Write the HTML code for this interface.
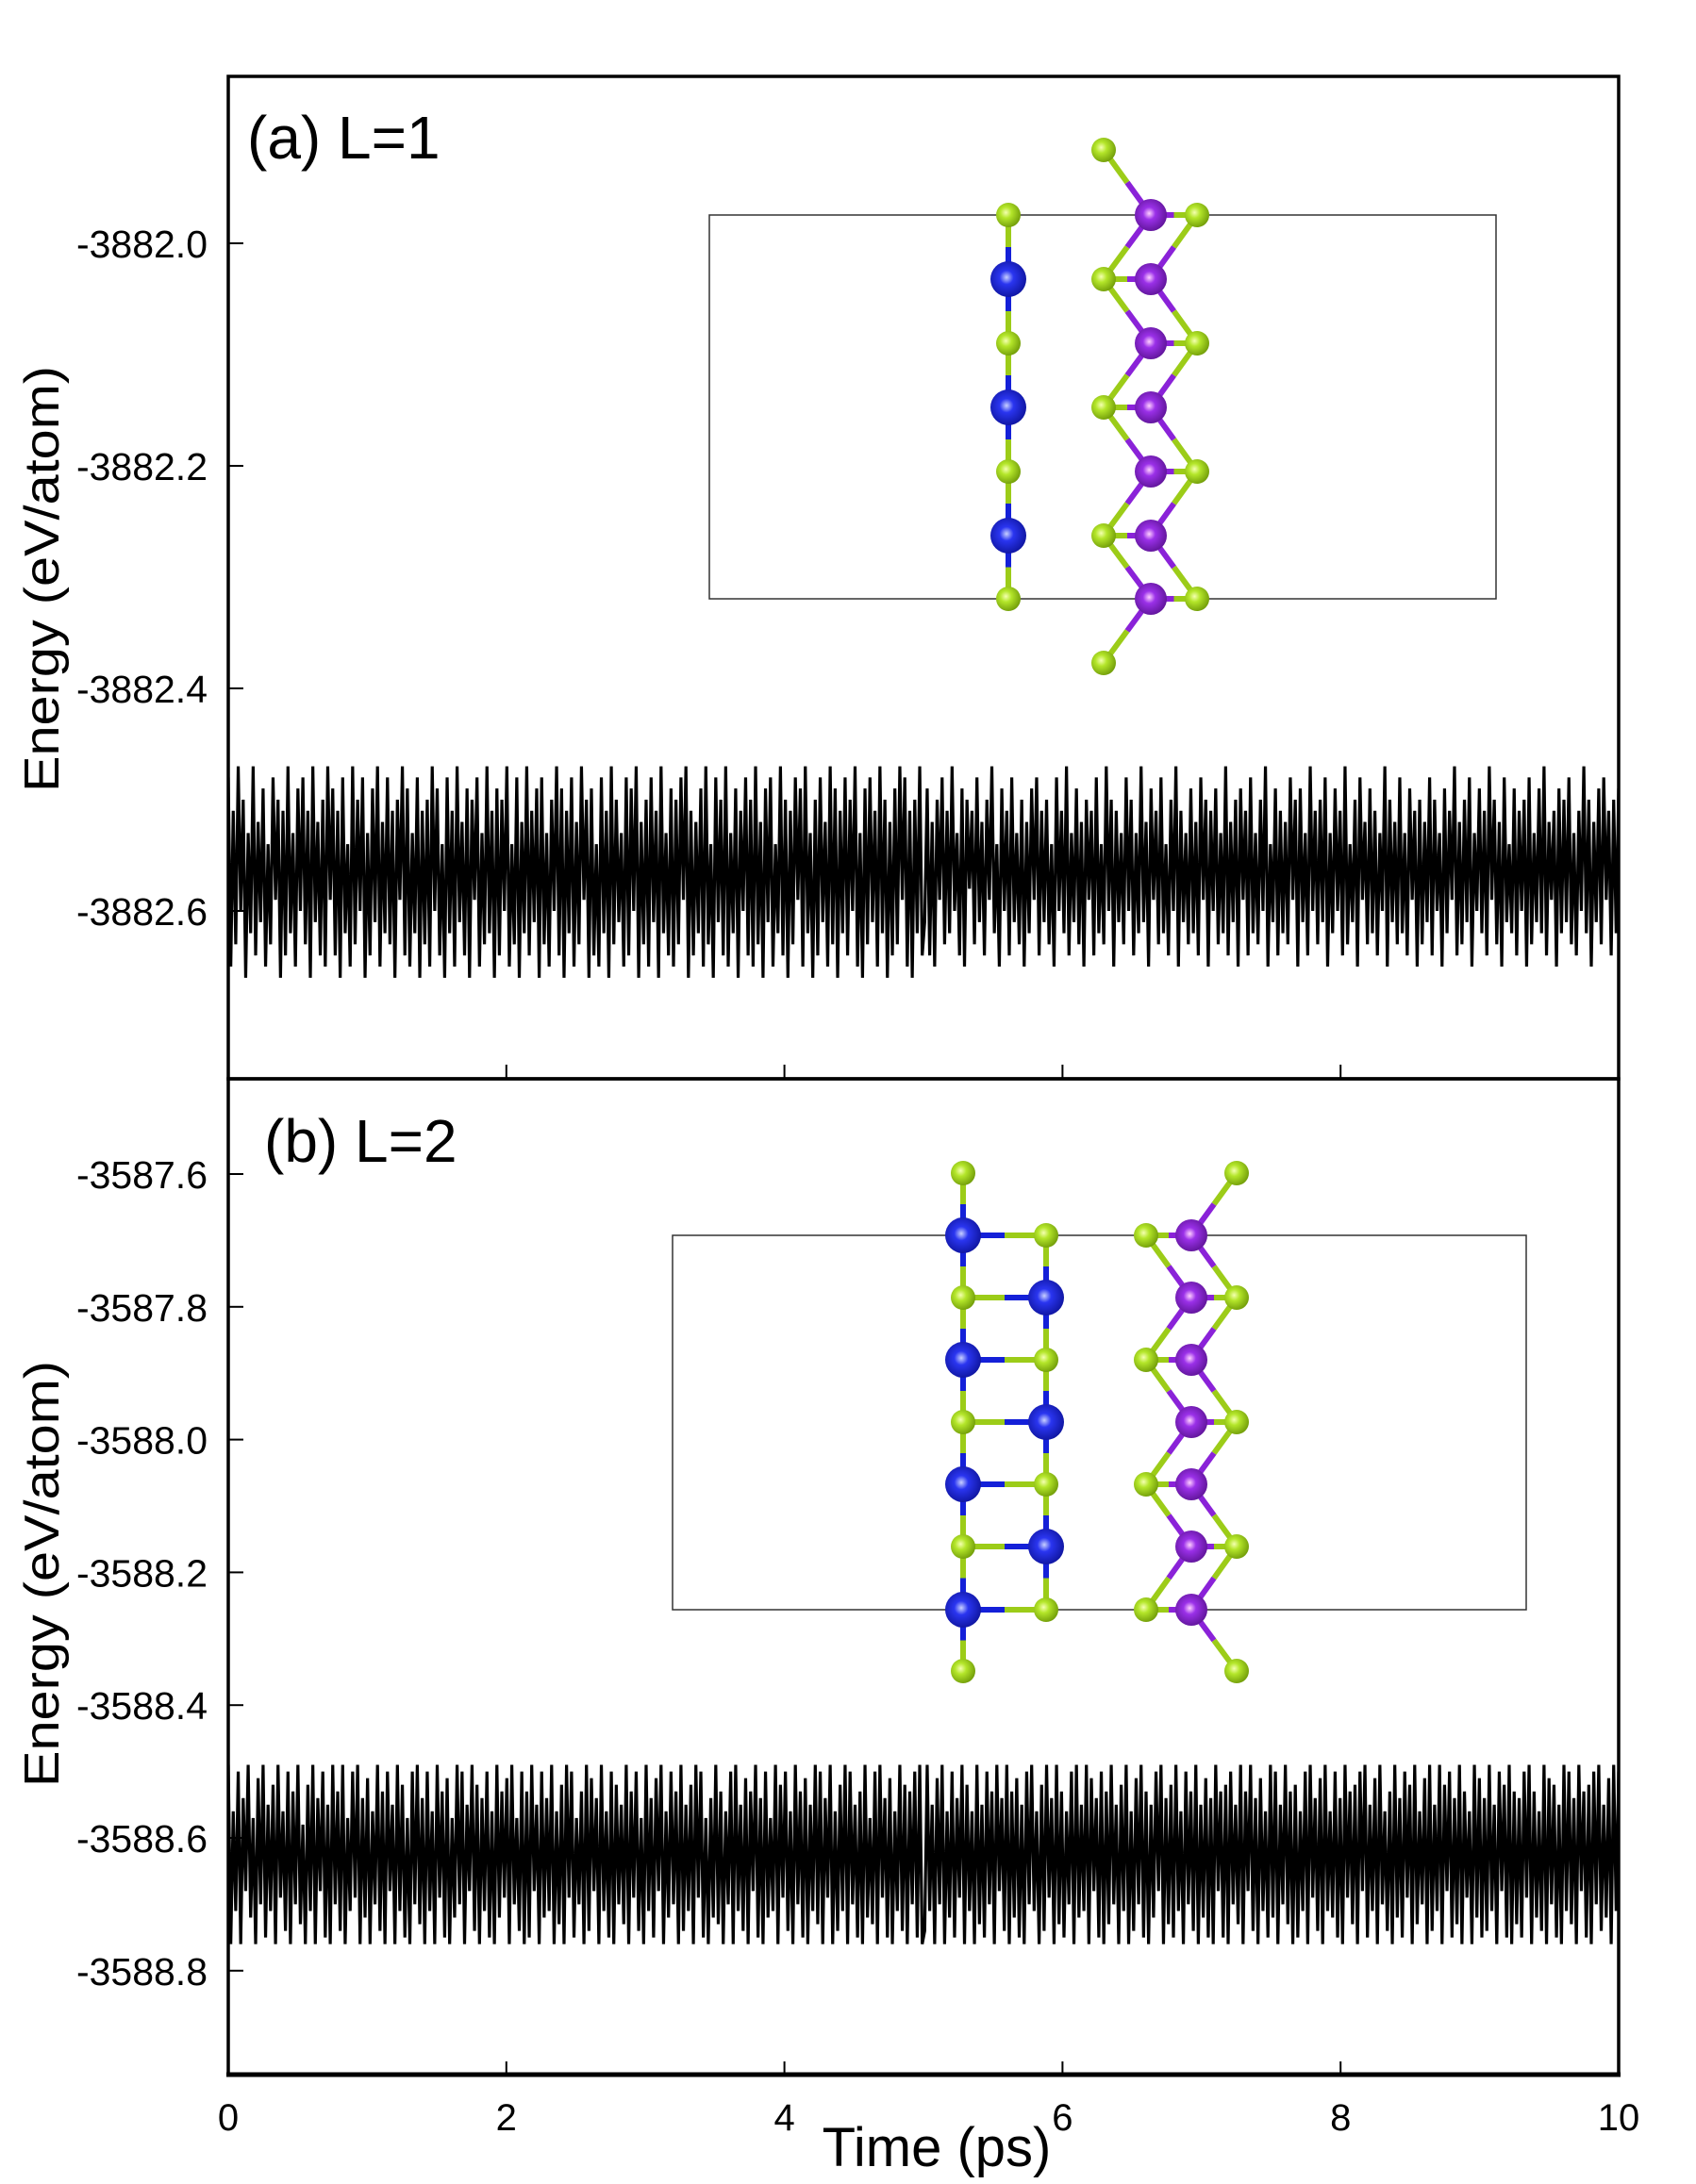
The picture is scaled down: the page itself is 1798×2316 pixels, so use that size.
<!DOCTYPE html>
<html><head><meta charset="utf-8"><style>
html,body{margin:0;padding:0;background:#fff;}
svg{display:block;font-family:"Liberation Sans",Arial,sans-serif;}
</style></head><body>
<svg id="fig" width="1798" height="2316" viewBox="0 0 1798 2316" xmlns="http://www.w3.org/2000/svg">
<defs>
<radialGradient id="gG" cx="0.4" cy="0.4" r="0.65"><stop offset="0" stop-color="#f4ffb0"/><stop offset="0.35" stop-color="#b4e62a"/><stop offset="1" stop-color="#6f9a08"/></radialGradient>
<radialGradient id="gB" cx="0.45" cy="0.45" r="0.65"><stop offset="0" stop-color="#c8d0ff"/><stop offset="0.3" stop-color="#2a35f0"/><stop offset="1" stop-color="#0a0f90"/></radialGradient>
<radialGradient id="gP" cx="0.45" cy="0.45" r="0.65"><stop offset="0" stop-color="#ffd0ff"/><stop offset="0.3" stop-color="#9a30e8"/><stop offset="1" stop-color="#55108a"/></radialGradient>
<clipPath id="clipTop"><rect x="242" y="81" width="1474" height="1063"/></clipPath>
<clipPath id="clipBot"><rect x="242" y="1144" width="1474" height="1056"/></clipPath>
</defs>
<g id="structA"></g>
<g id="structB"></g>
<g id="series"></g>
<g id="axes"></g>
<text x="262" y="168" font-size="64">(a) L=1</text>
<text x="280" y="1232" font-size="64">(b) L=2</text>
<text transform="translate(62,614) rotate(-90)" text-anchor="middle" font-size="52" textLength="452" lengthAdjust="spacingAndGlyphs">Energy (eV/atom)</text>
<text transform="translate(62,1669) rotate(-90)" text-anchor="middle" font-size="52" textLength="452" lengthAdjust="spacingAndGlyphs">Energy (eV/atom)</text>
<text x="993" y="2297" text-anchor="middle" font-size="58">Time (ps)</text>
</svg>
<script>
const xTicks = [0, 2, 4, 6, 8, 10];
const yTicksTop = [-3882.0, -3882.2, -3882.4, -3882.6];
const yTicksBot = [-3587.6, -3587.8, -3588.0, -3588.2, -3588.4, -3588.6, -3588.8];
const tMax = 10;
const baseTop = -3882.56;
const baseBot = -3588.62;
const devTop1 = [8,-9,5,-7,9,-4,6,-10,3,-6,9,-8,4,-5,7,-9,2,-7,8,-3,6,-10,5,-8,9,-6,3,-9,7,-4,8,-7,5,-10,9,-5,4,-8,6,-9,
9,-3,7,-8,5,-10,8,-6,2,-9,9,-7,6,-4,8,-10,3,-8,7,-5,9,-9,4,-6,8,-7,5,-10,6,-3,9,-8,7,-9,3,-6,8,-10,5,-7,
6,-9,9,-4,7,-8,2,-10,8,-6,5,-9,9,-5,4,-8,7,-10,6,-3,8,-9,3,-7,9,-6,5,-10,7,-8,6,-4,9,-9,2,-7,8,-10,4,-6,
9,-8,5,-5,7,-10,8,-7,3,-9,6,-4,9,-8,7,-10,5,-6,8,-9,4,-7,9,-3,6,-10,7,-8,2,-9,8,-6,5,-10,9,-7,6,-5,3,-9,
8,-8,7,-4,9,-10,4,-7,6,-9,8,-5,5,-10,9,-6,3,-8,7,-9,6,-7,8,-3,9,-10,5,-8,4,-6,7,-9,9,-7,2,-10,8,-5,6,-8,
9,-9,3,-6,7,-10,5,-4,8,-8,6,-9,9,-7,4,-10,7,-5,8,-9,2,-6,9,-8,6,-10,5,-7,8,-3,7,-9,9,-6,3,-10,6,-8,8,-5,
4,-9,9,-7,7,-10,5,-6,8,-8,6,-4,9,-9,3,-10,7,-7,8,-5,5,-9,9,-6,6,-10,4,-8,7,-7,9,-3,8,-9,5,-10,6,-6,9,-8];
const devTop2 = [-5,7,-8,4,-9,6,-3,8,-7,5,-6,9,-4,3,-8,7,-9,6,-2,5,-7,8,-5,4,-8,6,-3,9,-6,2,-9,7,-4,5,-8,8,-5,3,-7,6,
-9,4,-6,7,-3,8,-8,5,-5,6,-7,2,-9,8,-4,5,-6,9,-8,3,-5,7,-7,4,-9,6,-3,5,-8,8,-6,2,-7,9,-4,6,-9,5,-5,3,
-7,8,-4,6,-8,3,-6,9,-5,4,-9,7,-3,5,-7,8,-6,2,-8,6,-4,9,-9,5,-5,3,-7,7,-6,4,-8,8,-3,6,-9,5,-4,7,-7,3,
-6,9,-8,4,-5,6,-9,7,-3,5,-8,8,-6,3,-7,6,-4,9,-9,2,-5,7,-8,5,-6,4,-7,8,-3,6,-9,7,-5,3,-8,9,-4,5,-7,6,
-5,8,-9,3,-6,7,-4,5,-8,9,-7,2,-5,6,-9,8,-3,4,-7,7,-6,5,-8,3,-4,9,-9,6,-5,4,-7,8,-6,3,-8,7,-3,5,-9,6,
-7,4,-5,8,-8,6,-4,3,-9,7,-6,5,-3,9,-8,4,-7,6,-5,8,-9,3,-4,7,-6,5,-8,9,-3,6,-7,4,-9,8,-5,2,-6,7,-8,5,
-4,6,-9,8,-7,3,-5,7,-6,9,-8,4,-3,5,-9,7,-6,6,-5,8,-7,3,-8,5,-4,9,-6,6,-9,4,-5,7,-7,8,-3,5,-8,6,-6,7];
const devBot1 = [13,-14,6,-9,12,-14,8,-6,13,-10,5,-14,11,-8,13,-13,7,-9,10,-14,13,-7,6,-12,12,-14,9,-8,13,-11,4,-14,10,-9,13,-14,8,-6,12,-13,
7,-14,13,-8,9,-12,13,-14,5,-9,12,-7,13,-14,8,-10,11,-14,6,-8,13,-12,9,-14,12,-6,7,-14,13,-9,10,-13,5,-14,12,-8,13,-11,8,-14,
12,-9,6,-14,13,-7,9,-13,11,-14,5,-10,13,-8,12,-14,7,-6,13,-12,10,-14,8,-9,12,-13,6,-14,13,-10,9,-7,11,-14,13,-8,5,-12,12,-14,
9,-13,13,-6,7,-14,12,-10,8,-9,13,-14,6,-11,10,-14,13,-7,12,-13,5,-8,9,-14,13,-12,11,-6,8,-14,13,-9,6,-13,12,-14,10,-8,7,-11,
13,-14,9,-7,12,-12,5,-14,13,-9,8,-13,11,-6,13,-14,6,-10,12,-8,9,-14,13,-12,7,-9,10,-14,13,-7,12,-13,5,-14,8,-10,13,-11,9,-14,
6,-8,12,-14,13,-9,7,-12,11,-14,9,-6,13,-13,8,-14,12,-10,5,-9,13,-14,10,-7,12,-12,6,-14,13,-8,9,-13,11,-14,7,-9,13,-11,12,-14,
8,-7,13,-14,6,-12,10,-9,13,-14,12,-8,7,-13,9,-14,13,-10,5,-11,12,-14,13,-7,8,-13,11,-14,6,-9,13,-12,10,-14,9,-8,12,-13,13,-14];
const devBot2 = [-12,13,-9,7,-14,11,-8,13,-14,6,-10,12,-13,8,-7,13,-14,10,-9,6,-14,13,-11,7,-13,12,-8,9,-14,13,-6,8,-12,13,-14,9,-10,11,-13,7,
-14,12,-8,13,-9,6,-14,10,-12,13,-7,8,-14,13,-11,9,-13,6,-8,12,-14,13,-10,7,-9,13,-14,11,-6,8,-13,12,-14,9,-11,13,-8,7,-14,10,
-9,13,-14,6,-12,11,-8,13,-13,9,-14,7,-10,12,-6,13,-14,8,-11,10,-13,13,-9,6,-14,12,-8,9,-12,13,-14,7,-10,11,-13,8,-14,13,-6,9,
-13,10,-14,12,-8,7,-11,13,-14,9,-6,13,-12,8,-14,11,-9,6,-13,13,-10,12,-14,7,-8,13,-11,9,-14,10,-13,6,-9,12,-14,13,-7,8,-12,11,
-14,13,-9,6,-10,12,-13,8,-14,13,-7,9,-11,10,-14,12,-6,13,-13,7,-9,11,-14,13,-8,6,-12,9,-14,13,-10,8,-13,12,-7,10,-14,13,-11,6,
-8,11,-14,13,-12,7,-9,13,-14,10,-6,12,-13,8,-11,13,-14,9,-7,6,-14,13,-10,11,-13,8,-12,13,-9,7,-14,12,-6,10,-13,13,-14,9,-11,8,
-13,12,-7,13,-14,9,-10,6,-12,13,-14,11,-8,10,-13,7,-14,13,-9,12,-11,8,-14,13,-6,9,-13,10,-14,12,-8,13,-12,7,-10,11,-14,13,-9,12];

const NS = "http://www.w3.org/2000/svg";
const X0 = 242, X1 = 1716;
function xScale(t){ return X0 + t / tMax * (X1 - X0); }
function yTop(v){ return 258 + (-3882.0 - v) / 0.2 * 236; }
function yBot(v){ return 1245 + (-3587.6 - v) / 0.2 * 140.8; }
function mk(tag, attrs, parent){
  const e = document.createElementNS(NS, tag);
  for (const k in attrs) e.setAttribute(k, attrs[k]);
  parent.appendChild(e);
  return e;
}
const series = document.getElementById('series');
const axes = document.getElementById('axes');

function drawSeries(base, dev, yf, clip, name){
  const n = dev.length;
  let d = '';
  for (let i = 0; i < n; i++){
    const t = i * tMax / (n - 1);
    const v = base + dev[i] * 0.01;
    d += (i ? 'L' : 'M') + xScale(t).toFixed(2) + ',' + yf(v).toFixed(2);
  }
  const p = mk('path', {d: d, fill: 'none', stroke: '#000', 'stroke-width': 3.2, 'stroke-linejoin': 'bevel', 'clip-path': 'url(#' + clip + ')'}, series);
  
  
}
drawSeries(baseTop, devTop1.concat(devTop2), yTop, 'clipTop', 'energy-line-l1');
drawSeries(baseBot, devBot1.concat(devBot2), yBot, 'clipBot', 'energy-line-l2');

const fr1 = mk('rect', {x: 242, y: 81, width: 1474, height: 1063, fill: 'none', stroke: '#000', 'stroke-width': 3.5}, axes);


const fr2 = mk('rect', {x: 242, y: 1144, width: 1474, height: 1056, fill: 'none', stroke: '#000', 'stroke-width': 3.5}, axes);


const bl = mk('line', {x1: 240, y1: 2200, x2: 1718, y2: 2200, stroke: '#000', 'stroke-width': 5}, axes);



xTicks.forEach(function(t){
  const x = xScale(t);
  if (t > 0 && t < tMax){
    const a = mk('line', {x1: x, y1: 1144, x2: x, y2: 1129, stroke: '#000', 'stroke-width': 2}, axes);
    
    
    const b = mk('line', {x1: x, y1: 2200, x2: x, y2: 2186, stroke: '#000', 'stroke-width': 2}, axes);
    
    
  }
  const lb = mk('text', {x: x, y: 2259, 'text-anchor': 'middle', 'font-size': 40}, axes);
  lb.textContent = String(t);
  
  
});
function yTicks(arr, yf){
  arr.forEach(function(v){
    const y = yf(v);
    const tk = mk('line', {x1: 242, y1: y, x2: 258, y2: y, stroke: '#000', 'stroke-width': 2}, axes);
    
    
    const lb = mk('text', {x: 220, y: y + 15, 'text-anchor': 'end', 'font-size': 41}, axes);
    lb.textContent = v.toFixed(1);
    
    
  });
}
yTicks(yTicksTop, yTop);
yTicks(yTicksBot, yBot);

const col = {G: '#9ccc18', B: '#1420d8', P: '#8a22d8'};
const grad = {G: 'url(#gG)', B: 'url(#gB)', P: 'url(#gP)'};
const rad = {G: 13, B: 19, P: 17};
function bond(g, a, b){
  const mx = (a[0] + b[0]) / 2, my = (a[1] + b[1]) / 2;
  mk('line', {x1: a[0], y1: a[1], x2: mx, y2: my, stroke: col[a[2]], 'stroke-width': 6}, g);
  mk('line', {x1: mx, y1: my, x2: b[0], y2: b[1], stroke: col[b[2]], 'stroke-width': 6}, g);
}
function atom(g, a){
  const c = mk('circle', {cx: a[0], cy: a[1], r: rad[a[2]], fill: grad[a[2]]}, g);
  
  
}
(function(){
  const g = document.getElementById('structA');
  const r = mk('rect', {x: 752, y: 228, width: 834, height: 407, fill: 'none', stroke: '#333', 'stroke-width': 1.5}, g);
  
  
  const rows = [228, 296, 364, 432, 500, 568, 635];
  const left = rows.map(function(y, i){ return [1069, y, i % 2 ? 'B' : 'G']; });
  const P = rows.map(function(y){ return [1220, y, 'P']; });
  const GL = {}, GR = {};
  [1, 3, 5].forEach(function(i){ GL[i] = [1170, rows[i], 'G']; });
  [0, 2, 4, 6].forEach(function(i){ GR[i] = [1269, rows[i], 'G']; });
  const top = [1170, 159, 'G'], bot = [1170, 703, 'G'];
  for (let i = 0; i < 6; i++) bond(g, left[i], left[i + 1]);
  const chainA = [top, P[0], GL[1], P[2], GL[3], P[4], GL[5], P[6], bot];
  const chainB = [GR[0], P[1], GR[2], P[3], GR[4], P[5], GR[6]];
  for (let i = 0; i < chainA.length - 1; i++) bond(g, chainA[i], chainA[i + 1]);
  for (let i = 0; i < chainB.length - 1; i++) bond(g, chainB[i], chainB[i + 1]);
  for (let i = 0; i < 7; i++) bond(g, P[i], GL[i] || GR[i]);
  left.concat([top, bot]).concat(Object.values(GL)).concat(Object.values(GR)).concat(P).forEach(function(a){ atom(g, a); });
})();
(function(){
  const g = document.getElementById('structB');
  const r = mk('rect', {x: 713, y: 1310, width: 905, height: 397, fill: 'none', stroke: '#333', 'stroke-width': 1.5}, g);
  
  
  const rows = [1310, 1376, 1442, 1508, 1574, 1640, 1707];
  const c1 = rows.map(function(y, i){ return [1021, y, i % 2 ? 'G' : 'B']; });
  const c2 = rows.map(function(y, i){ return [1109, y, i % 2 ? 'B' : 'G']; });
  const t1 = [1021, 1244, 'G'], b1 = [1021, 1772, 'G'];
  const col1 = [t1].concat(c1).concat([b1]);
  for (let i = 0; i < col1.length - 1; i++) bond(g, col1[i], col1[i + 1]);
  for (let i = 0; i < 6; i++) bond(g, c2[i], c2[i + 1]);
  for (let i = 0; i < 7; i++) bond(g, c1[i], c2[i]);
  const P = rows.map(function(y){ return [1263, y, 'P']; });
  const GL = {}, GR = {};
  [0, 2, 4, 6].forEach(function(i){ GL[i] = [1215, rows[i], 'G']; });
  [1, 3, 5].forEach(function(i){ GR[i] = [1311, rows[i], 'G']; });
  const top = [1311, 1244, 'G'], bot = [1311, 1772, 'G'];
  const chainA = [top, P[0], GR[1], P[2], GR[3], P[4], GR[5], P[6], bot];
  const chainB = [GL[0], P[1], GL[2], P[3], GL[4], P[5], GL[6]];
  for (let i = 0; i < chainA.length - 1; i++) bond(g, chainA[i], chainA[i + 1]);
  for (let i = 0; i < chainB.length - 1; i++) bond(g, chainB[i], chainB[i + 1]);
  for (let i = 0; i < 7; i++) bond(g, P[i], GL[i] || GR[i]);
  col1.concat(c2).concat([top, bot]).concat(Object.values(GL)).concat(Object.values(GR)).concat(P).forEach(function(a){ atom(g, a); });
})();
</script>
</body></html>
